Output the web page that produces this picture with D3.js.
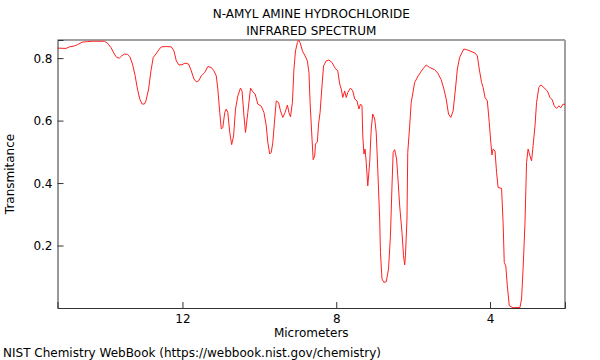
<!DOCTYPE html>
<html>
<head>
<meta charset="utf-8">
<script src="https://cdn.jsdelivr.net/npm/d3@7"></script>
<style>
  body { margin: 0; background: #fff; }
  svg { font-family: "DejaVu Sans", sans-serif; }
  .tick-label { font-size: 12px; fill: #000; }
  .title { font-size: 12px; fill: #000; }
</style>
</head>
<body>
<div id="chart"></div>
<script>
// spectrum: wavelength (micrometers) and transmittance
const wavelengthUm = [
  15.25, 15.03, 14.94, 14.81, 14.73, 14.61, 14.47, 14.34, 14.03, 13.95,
  13.86, 13.77, 13.71, 13.64, 13.58, 13.51, 13.43, 13.37, 13.30, 13.23,
  13.17, 13.11, 13.05, 12.99, 12.95, 12.88, 12.82, 12.76, 12.69, 12.60,
  12.55, 12.42, 12.29, 12.22, 12.16, 12.09, 12.01, 11.93, 11.84, 11.77,
  11.70, 11.64, 11.58, 11.51, 11.42, 11.34, 11.25, 11.18, 11.12, 11.08,
  11.03, 10.99, 10.95, 10.90, 10.86, 10.82, 10.77, 10.72, 10.67, 10.62,
  10.56, 10.49, 10.45, 10.40, 10.36, 10.30, 10.23, 10.17, 10.11, 10.04,
  9.95, 9.88, 9.82, 9.78, 9.73, 9.69, 9.65, 9.60, 9.56, 9.50,
  9.45, 9.39, 9.33, 9.27, 9.23, 9.19, 9.14, 9.10, 9.06, 9.01,
  8.98, 8.94, 8.88, 8.81, 8.75, 8.71, 8.68, 8.63, 8.60, 8.56,
  8.54, 8.49, 8.46, 8.42, 8.37, 8.33, 8.26, 8.19, 8.11, 8.03,
  7.96, 7.91, 7.87, 7.83, 7.78, 7.74, 7.70, 7.63, 7.57, 7.52,
  7.46, 7.41, 7.37, 7.33, 7.31, 7.28, 7.25, 7.22, 7.18, 7.13,
  7.09, 7.05, 7.00, 6.96, 6.92, 6.87, 6.85, 6.81, 6.76, 6.70,
  6.64, 6.59, 6.55, 6.52, 6.48, 6.43, 6.40, 6.35, 6.29, 6.25,
  6.22, 6.20, 6.16, 6.14, 6.09, 6.05, 5.96, 5.87, 5.75, 5.66,
  5.57, 5.44, 5.36, 5.27, 5.20, 5.14, 5.08, 5.02, 4.96, 4.90,
  4.85, 4.79, 4.73, 4.68, 4.61, 4.52, 4.39, 4.33, 4.28, 4.22,
  4.18, 4.13, 4.07, 4.02, 3.98, 3.95, 3.92, 3.87, 3.83, 3.79,
  3.70, 3.66, 3.63, 3.59, 3.55, 3.50, 3.40, 3.22, 3.18, 3.14,
  3.09, 3.05, 3.01, 2.96, 2.92, 2.88, 2.83, 2.79, 2.73, 2.68,
  2.62, 2.51, 2.44, 2.38, 2.33, 2.27, 2.21, 2.16, 2.10, 2.05
];
const transmittance = [
  0.832, 0.831, 0.836, 0.839, 0.843, 0.851, 0.853, 0.854, 0.854, 0.848,
  0.834, 0.813, 0.802, 0.800, 0.807, 0.813, 0.812, 0.805, 0.781, 0.743,
  0.701, 0.669, 0.653, 0.653, 0.663, 0.701, 0.759, 0.802, 0.813, 0.829,
  0.836, 0.837, 0.836, 0.823, 0.791, 0.778, 0.779, 0.784, 0.781, 0.759,
  0.733, 0.724, 0.727, 0.743, 0.754, 0.773, 0.770, 0.759, 0.743, 0.701,
  0.626, 0.573, 0.578, 0.626, 0.637, 0.626, 0.562, 0.523, 0.551, 0.637,
  0.679, 0.704, 0.695, 0.615, 0.562, 0.626, 0.704, 0.692, 0.685, 0.653,
  0.646, 0.626, 0.583, 0.530, 0.493, 0.498, 0.530, 0.605, 0.663, 0.658,
  0.631, 0.610, 0.626, 0.650, 0.626, 0.612, 0.658, 0.765, 0.823, 0.850,
  0.858, 0.850, 0.823, 0.807, 0.791, 0.754, 0.658, 0.541, 0.475, 0.487,
  0.525, 0.532, 0.589, 0.626, 0.711, 0.775, 0.791, 0.794, 0.786, 0.768,
  0.759, 0.717, 0.701, 0.674, 0.695, 0.674, 0.690, 0.704, 0.695, 0.669,
  0.663, 0.637, 0.653, 0.647, 0.551, 0.493, 0.509, 0.466, 0.391, 0.466,
  0.573, 0.621, 0.605, 0.562, 0.445, 0.285, 0.178, 0.093, 0.082, 0.084,
  0.125, 0.231, 0.391, 0.498, 0.507, 0.477, 0.423, 0.327, 0.242, 0.167,
  0.138, 0.167, 0.285, 0.498, 0.583, 0.658, 0.722, 0.743, 0.765, 0.778,
  0.770, 0.763, 0.752, 0.731, 0.701, 0.669, 0.621, 0.610, 0.631, 0.701,
  0.765, 0.802, 0.818, 0.829, 0.827, 0.823, 0.816, 0.807, 0.765, 0.722,
  0.706, 0.674, 0.663, 0.594, 0.530, 0.490, 0.509, 0.503, 0.434, 0.386,
  0.383, 0.274, 0.146, 0.135, 0.071, 0.007, 0.001, 0.002, 0.029, 0.125,
  0.274, 0.466, 0.509, 0.487, 0.471, 0.519, 0.583, 0.658, 0.706, 0.714,
  0.708, 0.695, 0.674, 0.666, 0.647, 0.639, 0.647, 0.641, 0.653, 0.651
];

const xDomain = [15.25, 2.05];
const yDomain = [0, 0.858];
const xMajorTicks = [12, 8, 4];
const xMinorTicks = [15, 14, 13, 11, 10, 9, 7, 6, 5, 3];
const yMajorTicks = [0.2, 0.4, 0.6, 0.8];
const yMinorTicks = [0.05, 0.1, 0.15, 0.25, 0.3, 0.35, 0.45, 0.5, 0.55, 0.65, 0.7, 0.75, 0.85];
const titleLines = ["N-AMYL AMINE HYDROCHLORIDE", "INFRARED SPECTRUM"];

const W = 600, H = 360;
const margin = { top: 40, right: 35, bottom: 52, left: 57.5 };
const width = W - margin.left - margin.right;
const height = H - margin.top - margin.bottom;

const svg = d3.select("#chart").append("svg")
  .attr("width", W)
  .attr("height", H);

const g = svg.append("g")
  .attr("transform", `translate(${margin.left},${margin.top})`);

const x = d3.scaleLinear().domain(xDomain).range([0, width]);
const y = d3.scaleLinear().domain(yDomain).range([height, 0]);

g.append("clipPath").attr("id", "plot-clip")
  .append("rect").attr("x", 0).attr("y", -1).attr("width", width).attr("height", height + 1);

// frame: top and right grey, left and bottom dark
g.append("line").attr("x1", 0).attr("x2", width).attr("y1", 0).attr("y2", 0)
  .attr("stroke", "#a0a0a0").attr("stroke-width", 2);
g.append("line").attr("x1", width).attr("x2", width).attr("y1", 0).attr("y2", height)
  .attr("stroke", "#a0a0a0").attr("stroke-width", 2);

const pts = wavelengthUm.map((w, i) => [w, transmittance[i]]);
const line = d3.line().x(d => x(d[0])).y(d => y(d[1]));

g.append("path")
  .datum(pts)
  .attr("clip-path", "url(#plot-clip)")
  .attr("fill", "none")
  .attr("stroke", "#ff2020")
  .attr("stroke-width", 1)
  .attr("d", line);

// x axis (ticks pointing inward)
const xAxisG = g.append("g").attr("transform", `translate(0,${height})`);
xAxisG.call(d3.axisBottom(x).tickValues(xMinorTicks).tickSize(-3).tickFormat(""));
xAxisG.call(d3.axisBottom(x).tickValues(xMajorTicks).tickSize(-6).tickFormat(d3.format("d")));
xAxisG.selectAll(".domain").attr("stroke", "#333");
xAxisG.selectAll("line").attr("stroke", "#333");
xAxisG.selectAll("text").attr("class", "tick-label").attr("y", 6).attr("dy", "0.71em")
  .style("font-size", "12px").style("font-family", "DejaVu Sans");

const yAxisG = g.append("g");
yAxisG.call(d3.axisLeft(y).tickValues(yMinorTicks).tickSize(-3).tickFormat(""));
yAxisG.call(d3.axisLeft(y).tickValues(yMajorTicks).tickSize(-6).tickFormat(d3.format(".1f")));
yAxisG.selectAll(".domain").attr("stroke", "#333");
yAxisG.selectAll("line").attr("stroke", "#333");
yAxisG.selectAll("text").attr("x", -5).attr("dy", "0.36em")
  .style("font-size", "12px").style("font-family", "DejaVu Sans");

// titles and labels
svg.selectAll("text.title")
  .data(titleLines)
  .enter().append("text")
  .attr("class", "title")
  .attr("x", margin.left + width / 2)
  .attr("y", (d, i) => 18 + i * 17)
  .attr("text-anchor", "middle")
  .text(d => d);

svg.append("text")
  .attr("class", "title")
  .attr("x", margin.left + width / 2)
  .attr("y", 337)
  .attr("text-anchor", "middle")
  .text("Micrometers");

svg.append("text")
  .attr("class", "title")
  .attr("transform", "rotate(-90)")
  .attr("x", -(margin.top + height / 2))
  .attr("y", 14)
  .attr("text-anchor", "middle")
  .text("Transmitance");

svg.append("text")
  .attr("class", "title")
  .attr("x", 3)
  .attr("y", 357)
  .text("NIST Chemistry WebBook (https://webbook.nist.gov/chemistry)");
</script>
</body>
</html>
